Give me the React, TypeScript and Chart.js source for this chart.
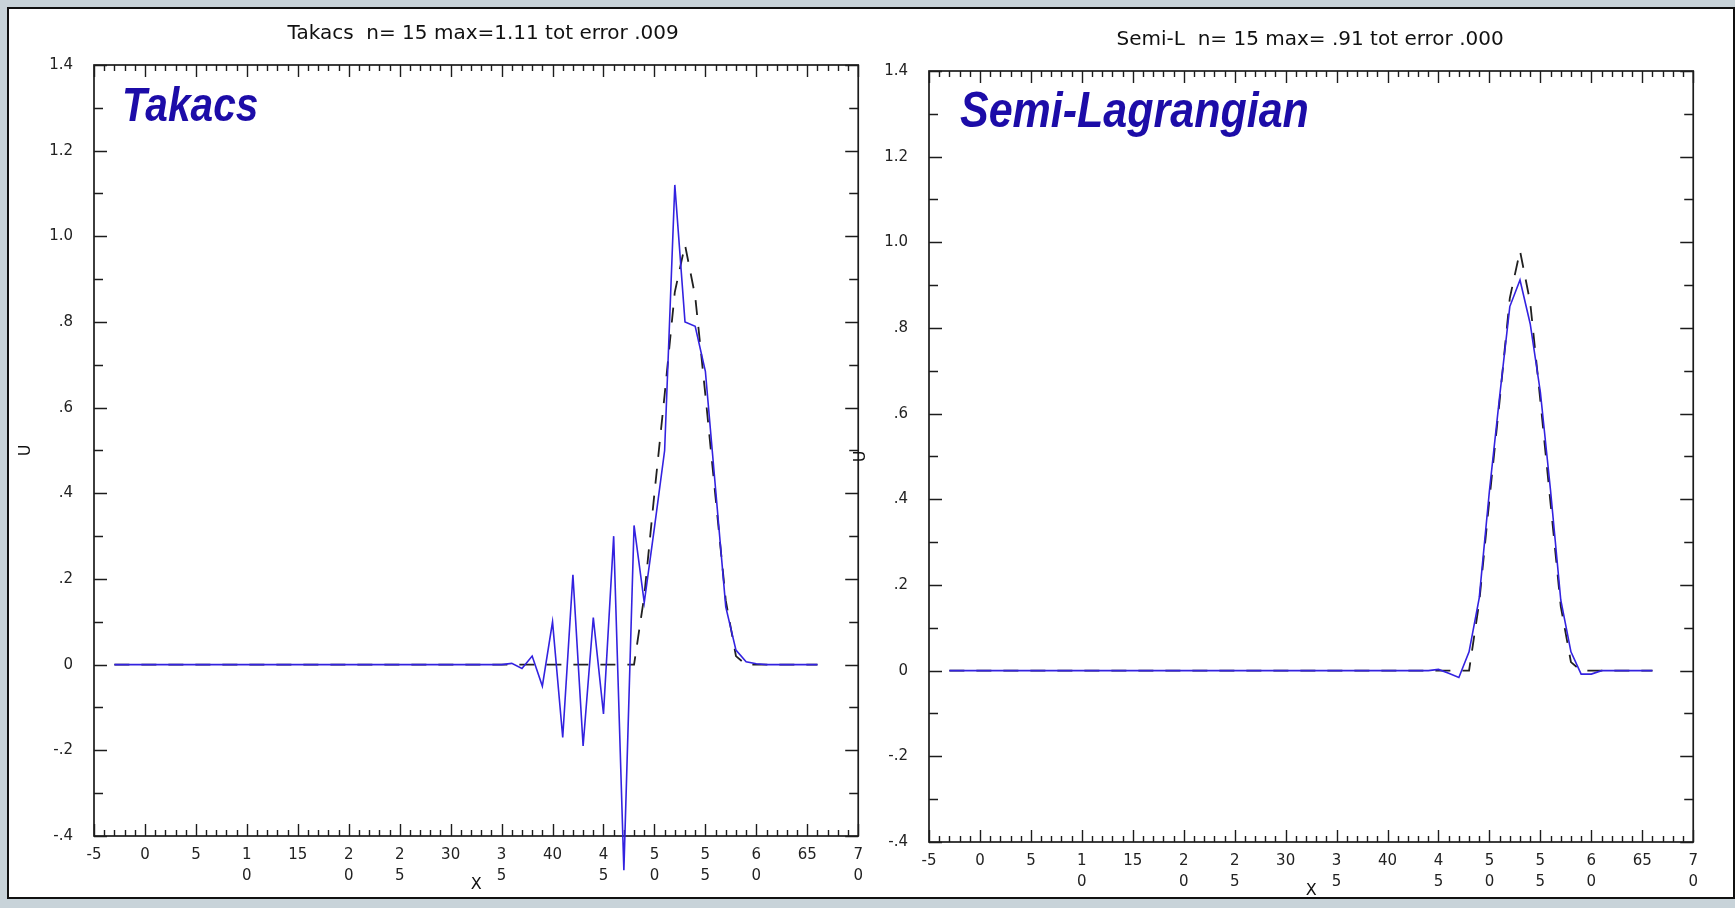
import React, { useEffect, useRef } from "react";
import { Chart, registerables } from "chart.js";

Chart.register(...registerables);

// ---------------- data ----------------
const X_VALUES = [
  -3, -2, -1, 0, 1, 2, 3, 4, 5, 6, 7, 8, 9, 10, 11, 12, 13, 14, 15, 16, 17, 18, 19, 20,
  21, 22, 23, 24, 25, 26, 27, 28, 29, 30, 31, 32, 33, 34, 35, 36, 37, 38, 39, 40, 41, 42,
  43, 44, 45, 46, 47, 48, 49, 50, 51, 52, 53, 54, 55, 56, 57, 58, 59, 60, 61, 62, 63, 64,
  65, 66,
];

// Takacs scheme (x = -3 .. 66)
const TAKACS_U = [
  0, 0, 0, 0, 0, 0, 0, 0, 0, 0, 0, 0, 0, 0, 0, 0, 0, 0, 0, 0, 0, 0, 0, 0,
  0, 0, 0, 0, 0, 0, 0, 0, 0, 0, 0, 0, 0, 0, 0, 0.003, -0.009, 0.02, -0.05, 0.1, -0.17, 0.21,
  -0.19, 0.11, -0.115, 0.3, -0.48, 0.325, 0.145, 0.32, 0.5, 1.12, 0.8, 0.79, 0.685, 0.41, 0.135, 0.034,
  0.007, 0.002, 0, 0, 0, 0, 0, 0,
];

// Semi-Lagrangian scheme (x = -3 .. 66)
const SEMIL_U = [
  0, 0, 0, 0, 0, 0, 0, 0, 0, 0, 0, 0, 0, 0, 0, 0, 0, 0, 0, 0, 0, 0, 0, 0,
  0, 0, 0, 0, 0, 0, 0, 0, 0, 0, 0, 0, 0, 0, 0, 0, 0, 0, 0, 0, 0, 0,
  0, 0, 0.003, -0.006, -0.016, 0.044, 0.17, 0.42, 0.64, 0.85, 0.912, 0.81, 0.65, 0.42, 0.165, 0.044,
  -0.008, -0.008, 0, 0, 0, 0, 0, 0,
];

// exact solution (x = -3 .. 66)
const EXACT_U = [
  0, 0, 0, 0, 0, 0, 0, 0, 0, 0, 0, 0, 0, 0, 0, 0, 0, 0, 0, 0, 0, 0, 0, 0,
  0, 0, 0, 0, 0, 0, 0, 0, 0, 0, 0, 0, 0, 0, 0, 0, 0, 0, 0, 0, 0, 0,
  0, 0, 0, 0, 0, 0, 0.16, 0.4, 0.63, 0.87, 0.98, 0.86, 0.63, 0.39, 0.15, 0.02,
  0, 0, 0, 0, 0, 0, 0, 0,
];

const X_TICK_LABELS: (string | string[])[] = [
  "-5", "0", "5", ["1", "0"], "15", ["2", "0"], ["2", "5"], "30", ["3", "5"], "40",
  ["4", "5"], ["5", "0"], ["5", "5"], ["6", "0"], "65", ["7", "0"],
];
const Y_TICK_LABELS = ["-.4", "-.2", "0", ".2", ".4", ".6", ".8", "1.0", "1.2", "1.4"];

const X_MIN = -5;
const X_MAX = 70;
const X_STEP = 5;
const X_MINOR = 1;
const Y_MIN = -0.4;
const Y_MAX = 1.4;
const Y_STEP = 0.2;
const Y_MINOR = 0.1;

// ---------------- styles ----------------
const FONT = "'DejaVu Sans', 'Liberation Sans', sans-serif";
const BLUE = "#3322e0";
const LABEL_BLUE = "#1c0ca8";
const INK = "#1c1c1c";

type PanelSpec = {
  title: string;
  label: string;
  values: number[];
  left: number;
  top: number;
  width: number;
  height: number;
  padTop: number;
  xAxisHeight: number;
  titleDx: number;
  labelDx: number;
  labelSize: number;
  labelScale: number;
};

const PANELS: PanelSpec[] = [
  {
    title: "Takacs  n= 15 max=1.11 tot error .009",
    label: "Takacs",
    values: TAKACS_U,
    left: 8,
    top: 9,
    width: 864,
    height: 888,
    padTop: 56,
    xAxisHeight: 61,
    titleDx: 7,
    labelDx: 28,
    labelSize: 49,
    labelScale: 0.83,
  },
  {
    title: "Semi-L  n= 15 max= .91 tot error .000",
    label: "Semi-Lagrangian",
    values: SEMIL_U,
    left: 843,
    top: 9,
    width: 864,
    height: 894,
    padTop: 62,
    xAxisHeight: 61,
    titleDx: -1,
    labelDx: 31,
    labelSize: 50,
    labelScale: 0.86,
  },
];

function makeDecorPlugin(spec: PanelSpec) {
  return {
    id: "decor",
    beforeDatasetsDraw(chart: any) {
      const { ctx, chartArea: a, scales } = chart;
      const xs = scales.x;
      const ys = scales.y;
      ctx.save();
      ctx.strokeStyle = INK;
      ctx.lineWidth = 1.7;
      ctx.strokeRect(a.left, a.top, a.right - a.left, a.bottom - a.top);
      ctx.beginPath();
      const nx = Math.round((X_MAX - X_MIN) / X_MINOR);
      for (let k = 0; k <= nx; k++) {
        const v = X_MIN + k * X_MINOR;
        const px = Math.round(xs.getPixelForValue(v)) + 0.5;
        const len = k % Math.round(X_STEP / X_MINOR) === 0 ? 12 : 6;
        ctx.moveTo(px, a.bottom);
        ctx.lineTo(px, a.bottom - len);
        ctx.moveTo(px, a.top);
        ctx.lineTo(px, a.top + len);
      }
      const ny = Math.round((Y_MAX - Y_MIN) / Y_MINOR);
      for (let k = 0; k <= ny; k++) {
        const v = Y_MIN + k * Y_MINOR;
        const py = Math.round(ys.getPixelForValue(v)) + 0.5;
        const len = k % Math.round(Y_STEP / Y_MINOR) === 0 ? 13 : 9;
        ctx.moveTo(a.left, py);
        ctx.lineTo(a.left + len, py);
        ctx.moveTo(a.right, py);
        ctx.lineTo(a.right - len, py);
      }
      ctx.lineWidth = 1.4;
      ctx.stroke();
      ctx.restore();
    },
    afterDraw(chart: any) {
      const { ctx, chartArea: a } = chart;
      const cx = (a.left + a.right) / 2;
      ctx.save();
      ctx.fillStyle = "#111";
      ctx.textAlign = "center";
      ctx.textBaseline = "middle";
      ctx.font = `20px ${FONT}`;
      ctx.fillText(spec.title, cx + spec.titleDx, a.top - 31);

      ctx.font = `16px ${FONT}`;
      ctx.fillText("X", cx, a.bottom + 49);
      ctx.save();
      ctx.translate(a.left - 68, (a.top + a.bottom) / 2);
      ctx.rotate(-Math.PI / 2);
      ctx.fillText("U", 0, 0);
      ctx.restore();

      ctx.save();
      ctx.translate(a.left + spec.labelDx, a.top + 56);
      ctx.scale(spec.labelScale, 1);
      ctx.font = `italic bold ${spec.labelSize}px 'Liberation Sans', Arial, sans-serif`;
      ctx.fillStyle = LABEL_BLUE;
      ctx.textAlign = "left";
      ctx.textBaseline = "alphabetic";
      ctx.fillText(spec.label, 0, 0);
      ctx.restore();
      ctx.restore();
    },
  };
}

function Panel({ spec }: { spec: PanelSpec }) {
  const ref = useRef<HTMLCanvasElement | null>(null);
  useEffect(() => {
    if (!ref.current) return;
    const chart = new Chart(ref.current, {
      type: "line",
      data: {
        datasets: [
          {
            label: "numerical",
            data: X_VALUES.map((x, i) => ({ x, y: spec.values[i] })),
            borderColor: BLUE,
            borderWidth: 1.6,
            pointRadius: 0,
            tension: 0,
            clip: false as any,
            order: 0,
          },
          {
            label: "exact",
            data: X_VALUES.map((x, i) => ({ x, y: EXACT_U[i] })),
            borderColor: "#202020",
            borderWidth: 1.8,
            borderDash: [15, 12],
            pointRadius: 0,
            tension: 0,
            clip: false as any,
            order: 1,
          },
        ],
      },
      options: {
        responsive: false,
        animation: false,
        events: [],
        layout: { padding: { left: 0, right: 8, top: spec.padTop, bottom: 0 } },
        plugins: {
          legend: { display: false },
          tooltip: { enabled: false },
          title: { display: false },
        },
        scales: {
          x: {
            type: "linear",
            min: X_MIN,
            max: X_MAX,
            afterFit: (s: any) => {
              s.height = spec.xAxisHeight;
            },
            grid: { display: false, drawTicks: false },
            border: { display: false },
            ticks: {
              stepSize: X_STEP,
              autoSkip: false,
              maxRotation: 0,
              minRotation: 0,
              padding: 9,
              color: "#222",
              font: { family: FONT, size: 15, lineHeight: 1.4 },
              callback: (v: any) => X_TICK_LABELS[Math.round((Number(v) - X_MIN) / X_STEP)] ?? "",
            },
          },
          y: {
            type: "linear",
            min: Y_MIN,
            max: Y_MAX,
            afterFit: (s: any) => {
              s.width = 86;
            },
            grid: { display: false, drawTicks: false },
            border: { display: false },
            ticks: {
              stepSize: Y_STEP,
              autoSkip: false,
              padding: 21,
              color: "#222",
              font: { family: FONT, size: 15 },
              callback: (v: any) => Y_TICK_LABELS[Math.round((Number(v) - Y_MIN) / Y_STEP)] ?? "",
            },
          },
        },
      },
      plugins: [makeDecorPlugin(spec)],
    } as any);
    return () => chart.destroy();
  }, [spec]);
  return (
    <canvas
      ref={ref}
      width={spec.width}
      height={spec.height}
      style={{
        position: "absolute",
        left: spec.left,
        top: spec.top,
        width: spec.width,
        height: spec.height,
      }}
    />
  );
}

export default function App() {
  return (
    <div
      style={{
        position: "fixed",
        left: 0,
        top: 0,
        width: 1735,
        height: 908,
        background: "#c8d3d9",
        overflow: "hidden",
      }}
    >
      <div
        style={{
          position: "absolute",
          left: 7,
          top: 7,
          width: 1728,
          height: 892,
          boxSizing: "border-box",
          background: "#fff",
          border: "2px solid #111",
        }}
      />
      {PANELS.map((p, i) => (
        <Panel key={i} spec={p} />
      ))}
    </div>
  );
}
